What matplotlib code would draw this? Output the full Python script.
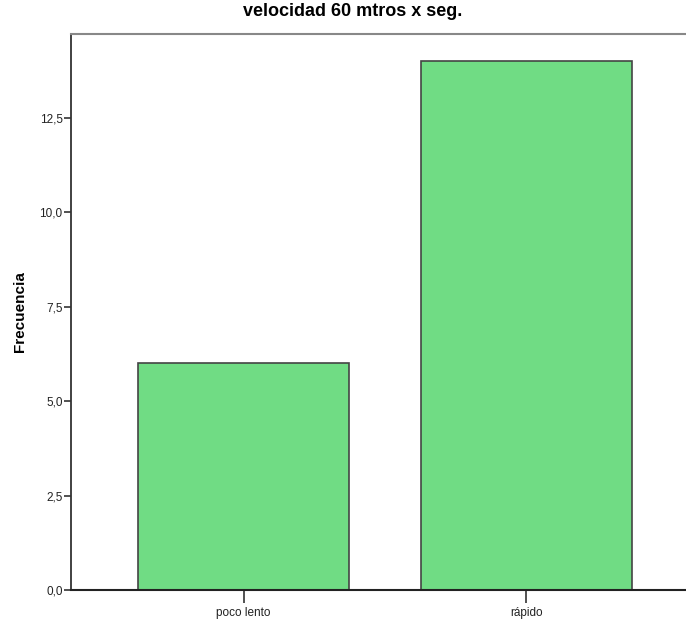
import matplotlib
matplotlib.use("Agg")
import matplotlib.pyplot as plt
from matplotlib.ticker import FuncFormatter

# data
categories = ["poco lento", "rápido"]
frequencies = [6, 14]
y_ticks = [0, 2.5, 5.0, 7.5, 10.0, 12.5]

bar_color = "#70DC84"
edge_color = "#444444"
narrow = ["Liberation Sans Narrow", "Liberation Sans", "DejaVu Sans"]

fig = plt.figure(figsize=(6.86, 6.2), dpi=100)
# axes reaches a bit past the right border, like the cropped original
ax = fig.add_axes([71 / 686, 30 / 620, 628 / 686, 556 / 620])

x = list(range(len(categories)))
ax.bar(x, frequencies, width=0.747, color=bar_color, edgecolor=edge_color, linewidth=1.2, zorder=2)

ax.set_xlim(-0.611, 1.611)
ax.set_ylim(0, 14.72)
ax.set_yticks(y_ticks)
ax.yaxis.set_major_formatter(FuncFormatter(lambda v, p: f"{v:.1f}".replace(".", ",")))
ax.set_xticks(x)
ax.set_xticklabels(categories)

for lab in ax.get_xticklabels() + ax.get_yticklabels():
    lab.set_family(narrow)
    lab.set_fontsize(8.5)
    lab.set_color("#222222")

ax.tick_params(axis="y", length=5, width=1.2, color="#333333", pad=1)
ax.tick_params(axis="x", length=9, width=1.2, color="#333333", pad=3)

ax.spines["left"].set_color("#333333")
ax.spines["left"].set_linewidth(1.3)
ax.spines["bottom"].set_color("#222222")
ax.spines["bottom"].set_linewidth(1.5)
ax.spines["top"].set_color("#888888")
ax.spines["top"].set_linewidth(1.5)
ax.spines["right"].set_color("#888888")

fig.text(20 / 686, 1 - 312 / 620, "Frecuencia", rotation=90, ha="center", va="center",
         fontsize=11, fontweight="bold", family=["Liberation Sans", "DejaVu Sans"])
fig.text(352.5 / 686, 1 - 12 / 620, "velocidad 60 mtros x seg.", ha="center", va="center",
         fontsize=13, fontweight="bold", family=narrow)

plt.savefig("out.png", dpi=100)
